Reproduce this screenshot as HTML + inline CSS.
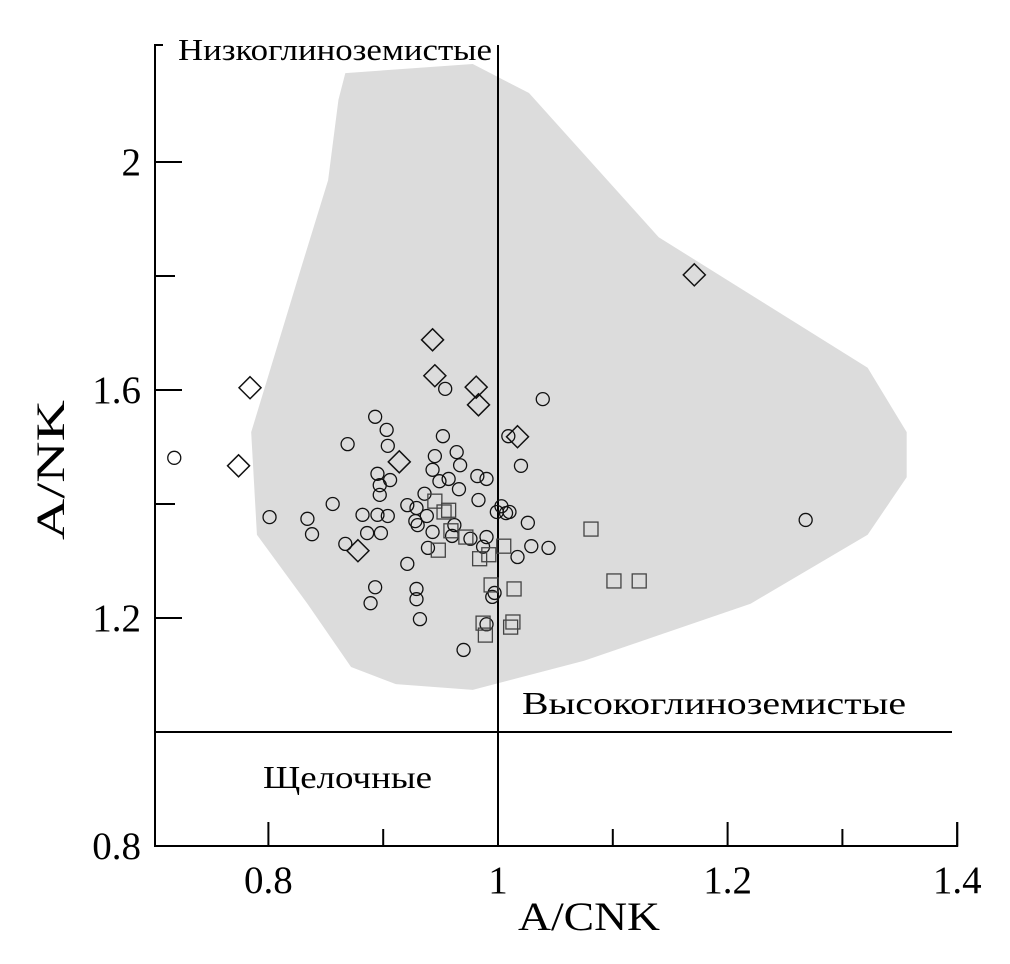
<!DOCTYPE html>
<html><head><meta charset="utf-8">
<style>
html,body{margin:0;padding:0;background:#fff;}
svg{display:block;font-family:"Liberation Serif",serif;}
</style></head>
<body>
<svg id="chart" width="1010" height="964" viewBox="0 0 1010 964" xmlns="http://www.w3.org/2000/svg">
<g id="region"></g>
<g id="lines"></g>
<g id="axes"></g>
<g id="marks"></g>
<text x="178" y="60" font-size="31" textLength="314" lengthAdjust="spacingAndGlyphs">Низкоглиноземистые</text>
<text x="522" y="714" font-size="32" textLength="384" lengthAdjust="spacingAndGlyphs">Высокоглиноземистые</text>
<text x="263" y="788" font-size="32" textLength="169" lengthAdjust="spacingAndGlyphs">Щелочные</text>
<text x="518" y="930" font-size="40" textLength="142" lengthAdjust="spacingAndGlyphs">A/CNK</text>
<text x="0" y="0" font-size="40" textLength="140" lengthAdjust="spacingAndGlyphs" text-anchor="middle" transform="translate(64,470) rotate(-90)">A/NK</text>
</svg>
<script>
const xTicks=[0.8,0.9,1.0,1.1,1.2,1.3,1.4];
const xTickLabels=["0.8","","1","","1.2","","1.4"];
const yTicks=[0.8,1.0,1.2,1.4,1.6,1.8,2.0];
const yTickLabels=["0.8","","1.2","","1.6","","2"];
const circleX=[0.718,0.801,0.834,0.838,0.856,0.869,0.893,0.903,0.904,0.895,0.906,0.897,0.897,0.882,0.895,0.904,0.886,0.898,0.867,0.921,0.893,0.889,0.929,0.929,0.932,0.954,1.039,0.952,1.009,1.020,0.945,0.964,0.967,0.943,0.949,0.957,0.982,0.990,0.966,0.983,0.936,0.921,0.929,0.938,0.928,0.930,0.943,0.962,0.960,0.976,0.990,0.987,0.939,0.999,1.003,1.007,1.010,1.026,1.029,1.044,1.017,0.997,0.995,0.990,0.970,1.268];
const circleY=[1.481,1.377,1.374,1.347,1.400,1.505,1.553,1.530,1.502,1.453,1.442,1.433,1.416,1.381,1.381,1.379,1.349,1.349,1.330,1.295,1.254,1.226,1.251,1.233,1.198,1.602,1.584,1.519,1.519,1.467,1.484,1.491,1.468,1.460,1.440,1.444,1.449,1.444,1.426,1.407,1.418,1.398,1.393,1.379,1.370,1.363,1.351,1.363,1.344,1.339,1.342,1.325,1.323,1.386,1.396,1.384,1.386,1.367,1.326,1.323,1.307,1.244,1.237,1.189,1.144,1.372];
const squareX=[0.945,0.953,0.957,0.959,0.972,0.948,0.984,0.992,1.005,1.081,0.994,1.014,0.987,0.989,1.013,1.011,1.101,1.123];
const squareY=[1.405,1.386,1.389,1.353,1.342,1.319,1.304,1.311,1.326,1.356,1.258,1.251,1.191,1.170,1.193,1.184,1.265,1.265];
const diamondX=[0.943,0.945,0.981,0.983,1.017,0.914,0.784,0.774,0.878,1.171];
const diamondY=[1.688,1.625,1.605,1.574,1.518,1.474,1.604,1.467,1.318,1.802];
const regionX=[0.867,0.978,0.998,1.027,1.140,1.322,1.356,1.356,1.322,1.220,1.075,0.978,0.911,0.872,0.834,0.790,0.785,0.828,0.852,0.861];
const regionY=[2.156,2.172,2.151,2.121,1.868,1.639,1.526,1.447,1.346,1.225,1.125,1.074,1.084,1.114,1.225,1.346,1.526,1.811,1.968,2.109];

const NS="http://www.w3.org/2000/svg";
function sx(v){return 498+(v-1)*1148;}
function sy(v){return 732-(v-1)*570;}
function mk(tag,attrs,parent){const e=document.createElementNS(NS,tag);for(const k in attrs)e.setAttribute(k,attrs[k]);parent.appendChild(e);return e;}

const region=document.getElementById('region');
const poly=mk('polygon',{points:regionX.map((x,i)=>sx(x)+','+sy(regionY[i])).join(' '),fill:'#dcdcdc',stroke:'none'},region);



const lines=document.getElementById('lines');
const vl=mk('line',{x1:sx(1),y1:45,x2:sx(1),y2:sy(0.8),stroke:'#000','stroke-width':2},lines);


const hl=mk('line',{x1:155,y1:sy(1),x2:952,y2:sy(1),stroke:'#000','stroke-width':2},lines);



const axes=document.getElementById('axes');
const yl=mk('path',{d:'M163,45 H155 V'+sy(0.8)+' H'+sx(1.4)+' V'+(sy(0.8)-24),fill:'none',stroke:'#000','stroke-width':2},axes);


xTicks.forEach((v,i)=>{
  const major=xTickLabels[i]!=="";
  const t=mk('line',{x1:sx(v),y1:sy(0.8),x2:sx(v),y2:sy(0.8)-(major?24:17),stroke:'#000','stroke-width':2},axes);
  
  
  if(major){
    const l=mk('text',{x:sx(v),y:893,'font-size':39,'text-anchor':'middle'},axes);
    l.textContent=xTickLabels[i];
    
    
  }
});
yTicks.forEach((v,i)=>{
  const major=yTickLabels[i]!=="";
  if(v>0.8){
    const t=mk('line',{x1:155,y1:sy(v),x2:155+(major?27:20),y2:sy(v),stroke:'#000','stroke-width':2},axes);
    
    
  }
  if(major){
    const l=mk('text',{x:141,y:sy(v)+13,'font-size':39,'text-anchor':'end'},axes);
    l.textContent=yTickLabels[i];
    
    
  }
});

const marks=document.getElementById('marks');
circleX.forEach((x,i)=>{
  const c=mk('circle',{cx:sx(x),cy:sy(circleY[i]),r:6.5,fill:'none',stroke:'#111','stroke-width':1.3},marks);
  
  
});
squareX.forEach((x,i)=>{
  const s=mk('rect',{x:sx(x)-7,y:sy(squareY[i])-7,width:14,height:14,fill:'none',stroke:'#444','stroke-width':1.3},marks);
  
  
});
diamondX.forEach((x,i)=>{
  const cx=sx(x),cy=sy(diamondY[i]),r=11;
  const d=mk('polygon',{points:`${cx},${cy-r} ${cx+r},${cy} ${cx},${cy+r} ${cx-r},${cy}`,fill:'none',stroke:'#111','stroke-width':1.5},marks);
  
  
});
</script>
</body></html>
